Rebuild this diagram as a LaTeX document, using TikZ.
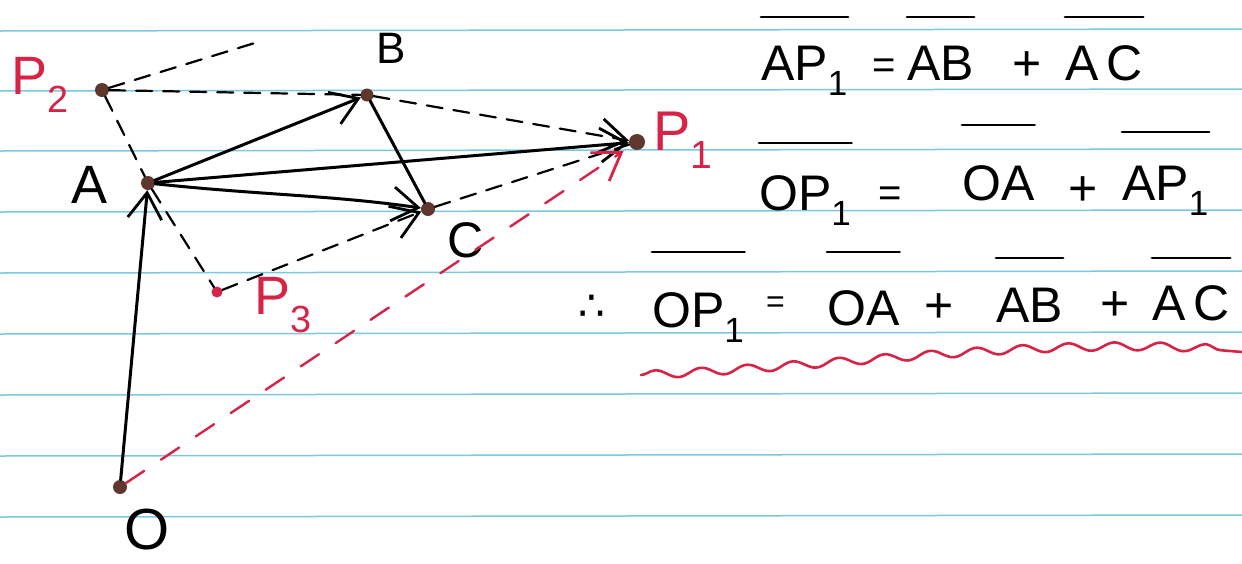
\documentclass[tikz,border=0pt]{standalone}
\usepackage{fontspec}
\setmainfont{Liberation Sans}
\newfontfamily\symfont{DejaVu Sans}
\usetikzlibrary{arrows.meta,decorations.pathmorphing}
\definecolor{paperline}{RGB}{125,200,225}
\definecolor{inkred}{RGB}{215,35,70}
\definecolor{dotbrown}{RGB}{95,55,45}
\begin{document}
\begin{tikzpicture}[x=1pt,y=-1pt,
  ptdot/.style={circle, fill=dotbrown, inner sep=0pt, minimum size=14pt},
  reddot/.style={circle, fill=inkred, inner sep=0pt, minimum size=11pt},
  lbl/.style={inner sep=0pt, font=\fontsize{50}{50}\selectfont},
  term/.style={inner sep=0pt, anchor=base west, font=\fontsize{50}{50}\selectfont},
  opsign/.style={inner sep=0pt, anchor=base west, font=\fontsize{40}{40}\selectfont},
  ink/.style={line width=3pt, line cap=round},
  dashedink/.style={line width=2.2pt, line cap=round, dash pattern=on 16pt off 11pt},
  reddash/.style={inkred, line width=2.4pt, line cap=round, dash pattern=on 22pt off 20pt},
  barb/.style={-{Straight Barb[length=26pt,width=34pt,line width=2.8pt]}},
  ovl/.style={line width=2.8pt, line cap=round}]
\useasboundingbox (0,0) rectangle (1242,563);
\fill[white] (0,0) rectangle (1242,563);
% ruled paper
\foreach \yy in {31,91,151,212,273,334,395,456,517}
  \draw[paperline, line width=1.5pt] (0,\yy) -- (1242,\yy-2);

% points
\node[ptdot] (O) at (120,487) {};
\node[ptdot] (A) at (148,183) {};
\node[ptdot, minimum size=13pt] (B) at (367,95) {};
\node[ptdot] (C) at (428,209) {};
\node[ptdot, minimum size=16pt] (P1) at (637,142) {};
\node[ptdot] (P2) at (102,90) {};
\node[reddot] (P3) at (217,292) {};
\coordinate (Q) at (258,42);

% labels
\node[lbl, font=\fontsize{58}{58}\selectfont] (lO) at (147,530) {O};
\node[lbl, font=\fontsize{54}{54}\selectfont] (lA) at (90,185) {A};
\node[lbl, font=\fontsize{44}{44}\selectfont] (lB) at (391,48) {B};
\node[lbl] (lC) at (466,240) {C};
\node[lbl, text=inkred, font=\fontsize{56}{56}\selectfont] (lP1) at (683,140) {P\textsubscript{1}};
\node[lbl, text=inkred, font=\fontsize{54}{54}\selectfont] (lP2) at (40,85) {P\textsubscript{2}};
\node[lbl, text=inkred, font=\fontsize{54}{54}\selectfont] (lP3) at (283,305) {P\textsubscript{3}};

% connectors
\draw[ink, barb] (O) -- (A);
\draw[ink, barb] (A) -- (B);
\draw[ink, barb] (A) -- (P1);
\draw[ink, barb] (A) .. controls (260,195) and (330,195) .. (C);
\draw[ink] (B) -- (C);
\draw[dashedink, barb] (B) -- (P1);
\draw[dashedink] (C) -- (P1);
\draw[dashedink, barb] (P3) -- (C);
\draw[dashedink] (P2) -- (B);
\draw[dashedink] (P2) -- (Q);
\draw[dashedink] (P2) -- (A);
\draw[dashedink] (A) -- (P3);
\draw[reddash, barb, shorten >=8pt] (O) -- (P1);

% equation 1
\node[term] (e1a) at (761,80) {AP\textsubscript{1}};
\node[opsign] (e1b) at (872,78) {=};
\node[term] (e1c) at (907,80) {AB};
\node[term] (e1d) at (1012,80) {+};
\node[term] (e1e) at (1065,80) {A\,C};
\draw[ovl] (e1a.west |- 0,17) -- (e1a.east |- 0,17);
\draw[ovl] (e1c.west |- 0,17) -- (e1c.east |- 0,17);
\draw[ovl] (e1e.west |- 0,17) -- (e1e.east |- 0,17);

% equation 2
\node[term] (e2a) at (759,210) {OP\textsubscript{1}};
\node[opsign] (e2b) at (878,206) {=};
\node[term] (e2c) at (962,200) {OA};
\node[term] (e2d) at (1068,205) {+};
\node[term] (e2e) at (1122,200) {AP\textsubscript{1}};
\draw[ovl] (e2a.west |- 0,143) -- (e2a.east |- 0,143);
\draw[ovl] (e2c.west |- 0,125) -- (e2c.east |- 0,125);
\draw[ovl] (e2e.west |- 0,132) -- (e2e.east |- 0,132);

% equation 3
\node[opsign, font=\symfont\fontsize{42}{42}\selectfont] (e3t) at (578,320) {∴};
\node[term] (e3a) at (652,327) {OP\textsubscript{1}};
\node[opsign, font=\fontsize{32}{32}\selectfont] (e3b) at (766,312) {=};
\node[term] (e3c) at (827,325) {OA};
\node[term] (e3d) at (924,322) {+};
\node[term] (e3e) at (996,322) {AB};
\node[term] (e3f) at (1100,320) {+};
\node[term] (e3g) at (1152,320) {A\,C};
\draw[ovl] (e3a.west |- 0,252) -- (e3a.east |- 0,252);
\draw[ovl] (e3c.west |- 0,252) -- (e3c.east |- 0,252);
\draw[ovl] (e3e.west |- 0,258) -- (e3e.east |- 0,258);
\draw[ovl] (e3g.west |- 0,258) -- (e3g.east |- 0,258);

% red wavy underline
\draw[inkred, line width=2.6pt, line cap=round, decorate,
      decoration={snake, amplitude=4pt, segment length=46pt}]
  (641,375) .. controls (850,365) and (1050,335) .. (1242,352);
\end{tikzpicture}
\end{document}
